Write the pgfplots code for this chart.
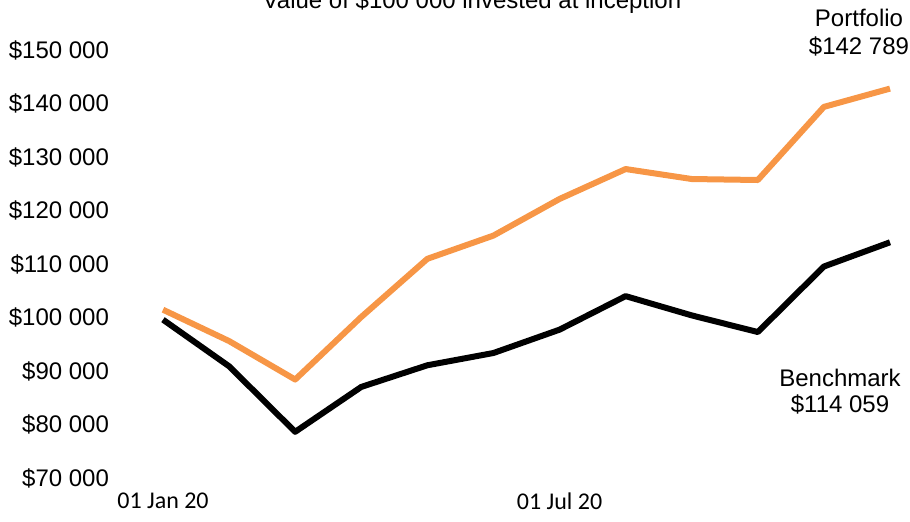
\documentclass[border=0pt]{standalone}
\usepackage{pgfplots}
\pgfplotsset{compat=1.18}
\usepackage{fontspec}
\setmainfont{Liberation Sans}
\newfontfamily\carlito{Carlito}
\definecolor{port}{HTML}{F79646}
\begin{document}
\begin{tikzpicture}[x=1pt,y=1pt]
\begin{axis}[
  at={(0,0)}, anchor=south west,
  scale only axis, width=363.5pt, height=214pt,
  xmin=0, xmax=11, ymin=70000, ymax=150000,
  clip=false,
  scaled y ticks=false,
  axis line style={draw=none},
  tick style={draw=none},
  xtick={0,6}, xticklabels={01 Jan 20, 01 Jul 20},
  xticklabel style={font=\carlito\fontsize{12}{14}\selectfont, yshift=-4pt},
  ytick={70000,80000,90000,100000,110000,120000,130000,140000,150000},
  yticklabels={\$70 000,\$80 000,\$90 000,\$100 000,\$110 000,\$120 000,\$130 000,\$140 000,\$150 000},
  yticklabel style={font=\fontsize{12}{14}\selectfont, anchor=east, xshift=-23.5pt},
]
\addplot[port, line width=3pt, line join=round] coordinates {
(0,101459) (1,95600) (2,88406) (3,100100) (4,110970) (5,115315)
(6,122158) (7,127753) (8,125888) (9,125702) (10,139371) (11,142789)};
\addplot[black, line width=3pt, line join=round] coordinates {
(0,99594) (1,90886) (2,78634) (3,87026) (4,91072) (5,93366)
(6,97730) (7,103996) (8,100396) (9,97282) (10,109534) (11,114059)};
\end{axis}
\node[anchor=base, inner sep=0pt, font=\fontsize{12}{14}\selectfont] at (154.5,234.5) {Value of \$100 000 invested at inception};
\node[anchor=base, inner sep=0pt, font=\fontsize{12}{14}\selectfont] at (348,225.6) {Portfolio};
\node[anchor=base, inner sep=0pt, font=\fontsize{12}{14}\selectfont] at (348,211.8) {\$142 789};
\node[anchor=base, inner sep=0pt, font=\fontsize{12}{14}\selectfont] at (338.5,45.6) {Benchmark};
\node[anchor=base, inner sep=0pt, font=\fontsize{12}{14}\selectfont] at (338.5,33) {\$114 059};
\pgfresetboundingbox
\useasboundingbox (-81.5,-21.5) rectangle (373.5,239);
\end{tikzpicture}
\end{document}
